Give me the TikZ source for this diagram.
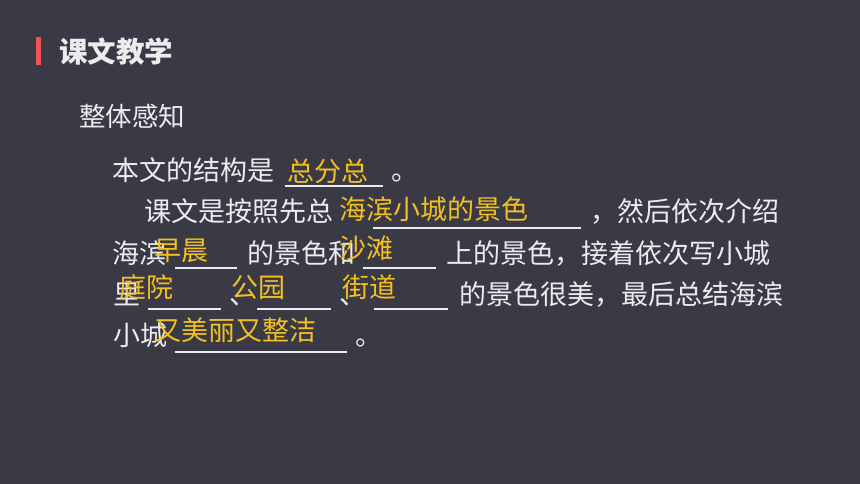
\documentclass[tikz,border=0pt]{standalone}
\usepackage{fontspec}
\newfontfamily\cjk{Noto Sans CJK SC}
\definecolor{slate}{RGB}{58,57,70}
\definecolor{paper}{RGB}{236,236,238}
\definecolor{gold}{RGB}{242,192,32}
\definecolor{barred}{RGB}{238,82,82}

\begin{document}
\begin{tikzpicture}[x=1pt, y=-1pt,
    txt/.style={anchor=base west, inner sep=0pt, text=paper,
      font=\cjk\fontsize{27}{27}\selectfont},
    ans/.style={txt, text=gold},
    blank/.style={draw=paper, line width=1.1pt}]
  \fill[slate] (0,0) rectangle (860,484);
  \useasboundingbox (0,0) rectangle (860,484);
  % title
  \fill[barred] (36,37) rectangle (41,65);
  \node [txt, font=\cjk\bfseries\fontsize{28.5}{28.5}\selectfont] (T) at (59,63) {课文教学};
  \node [txt, font=\cjk\fontsize{26.5}{26.5}\selectfont] (S) at (79,127) {整体感知};
  % line 1
  \node [txt] (L1) at (112,181) {本文的结构是};
  \draw [blank] (285,186) -- (383,186);
  \node [txt] (E1) at (391,181) {。};
  \node [ans] (A1) at (287,182) {总分总};
  % line 2
  \node [txt] (L2) at (144,222) {课文是按照先总};
  \draw [blank] (373,228) -- (581,228);
  \node [txt] (R2) at (590,222) {，然后依次介绍};
  \node [ans] (A2) at (339,219) {海滨小城的景色};
  % line 3
  \node [txt] (L3) at (112,263) {海滨};
  \draw [blank] (175,268) -- (237,268);
  \node [txt] (M3) at (247,263) {的景色和};
  \draw [blank] (363,268) -- (436,268);
  \node [txt] (R3) at (446,263) {上的景色，接着依次写小城};
  \node [ans] (A3) at (154,260) {早晨};
  \node [ans] (B3) at (339,258) {沙滩};
  % line 4
  \node [txt] (L4) at (113,304) {里};
  \draw [blank] (148,309) -- (221,309);
  \node [txt] (P4) at (229,304) {、};
  \draw [blank] (257,309) -- (331,309);
  \node [txt] (Q4) at (339,304) {、};
  \draw [blank] (374,309) -- (448,309);
  \node [txt] (R4) at (459,304) {的景色很美，最后总结海滨};
  \node [ans] (A4) at (119,297) {庭院};
  \node [ans] (B4) at (231,297) {公园};
  \node [ans] (C4) at (342,297) {街道};
  % line 5
  \node [txt] (L5) at (113,345) {小城};
  \draw [blank] (175,352) -- (347,352);
  \node [txt] (E5) at (355,345) {。};
  \node [ans] (A5) at (154,340) {又美丽又整洁};
\end{tikzpicture}
\end{document}
